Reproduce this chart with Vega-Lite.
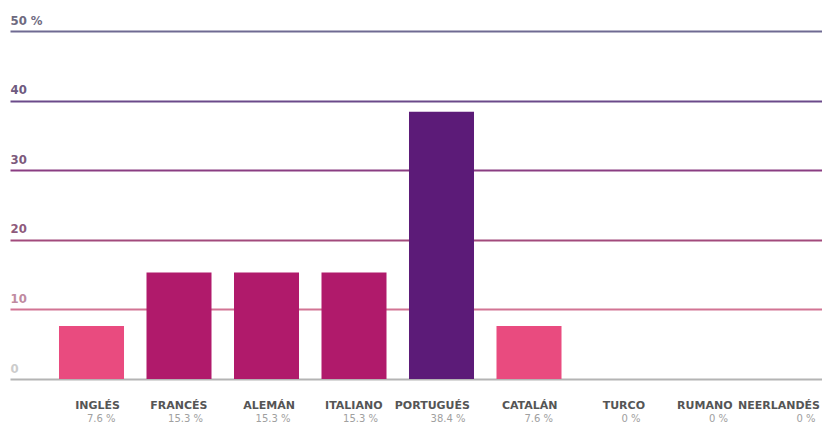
{
  "$schema": "https://vega.github.io/schema/vega-lite/v6.json",
  "width": 814,
  "height": 348,
  "autosize": {"type": "none"},
  "padding": {"left": 10, "top": 31, "right": 0, "bottom": 49},
  "background": "#ffffff",
  "config": {"view": {"stroke": null}},
  "data": {
    "values": [
      {"idioma": "INGLÉS", "pct": 7.6, "label": "7.6 %", "grupo": "a"},
      {"idioma": "FRANCÉS", "pct": 15.3, "label": "15.3 %", "grupo": "b"},
      {"idioma": "ALEMÁN", "pct": 15.3, "label": "15.3 %", "grupo": "b"},
      {"idioma": "ITALIANO", "pct": 15.3, "label": "15.3 %", "grupo": "b"},
      {"idioma": "PORTUGUÉS", "pct": 38.4, "label": "38.4 %", "grupo": "c"},
      {"idioma": "CATALÁN", "pct": 7.6, "label": "7.6 %", "grupo": "a"},
      {"idioma": "TURCO", "pct": 0, "label": "0 %", "grupo": "a"},
      {"idioma": "RUMANO", "pct": 0, "label": "0 %", "grupo": "a"},
      {"idioma": "NEERLANDÉS", "pct": 0, "label": "0 %", "grupo": "a"}
    ]
  },
  "layer": [
    {
      "mark": {"type": "bar"},
      "encoding": {
        "x": {
          "field": "idioma",
          "type": "nominal",
          "sort": null,
          "scale": {"paddingInner": 0.257, "paddingOuter": 0.28, "align": 1},
          "axis": null
        },
        "y": {
          "field": "pct",
          "type": "quantitative",
          "scale": {"domain": [0, 50], "nice": false},
          "axis": {
            "orient": "left",
            "values": [0, 10, 20, 30, 40, 50],
            "title": null,
            "domain": false,
            "ticks": false,
            "tickSize": 0,
            "grid": true,
            "gridWidth": 2,
            "gridColor": {
              "condition": [
                {"test": "datum.value == 50", "value": "#6f6a92"},
                {"test": "datum.value == 40", "value": "#6b4a8a"},
                {"test": "datum.value == 30", "value": "#8a3d82"},
                {"test": "datum.value == 20", "value": "#a24a7c"},
                {"test": "datum.value == 10", "value": "#d27494"}
              ],
              "value": "#b4b4b4"
            },
            "labelColor": {
              "condition": [
                {"test": "datum.value == 50", "value": "#6e6a80"},
                {"test": "datum.value == 40", "value": "#6e5a80"},
                {"test": "datum.value == 30", "value": "#7c5a7c"},
                {"test": "datum.value == 20", "value": "#8e5a7c"},
                {"test": "datum.value == 10", "value": "#c08aa0"}
              ],
              "value": "#cccccc"
            },
            "labelExpr": "datum.value == 50 ? '50 %' : datum.label",
            "labelAlign": "left",
            "labelBaseline": "alphabetic",
            "labelPadding": 0,
            "labelOffset": -7,
            "labelFont": "DejaVu Sans Condensed",
            "labelFontWeight": "bold",
            "labelFontSize": 13
          }
        },
        "color": {
          "field": "grupo",
          "type": "nominal",
          "scale": {"domain": ["a", "b", "c"], "range": ["#e94b7f", "#b01a6b", "#5c1b78"]},
          "legend": null
        }
      }
    },
    {
      "mark": {
        "type": "text",
        "align": "right",
        "baseline": "alphabetic",
        "dx": -4,
        "dy": 30,
        "font": "DejaVu Sans",
        "fontWeight": "bold",
        "fontSize": 11,
        "color": "#555555"
      },
      "encoding": {
        "x": {"field": "idioma", "type": "nominal", "sort": null, "bandPosition": 1},
        "y": {"datum": 0},
        "text": {"field": "idioma"}
      }
    },
    {
      "mark": {
        "type": "text",
        "align": "right",
        "baseline": "alphabetic",
        "dx": 24,
        "dy": 43,
        "font": "DejaVu Sans",
        "fontSize": 10,
        "color": "#a0a0a0"
      },
      "encoding": {
        "x": {"field": "idioma", "type": "nominal", "sort": null},
        "y": {"datum": 0},
        "text": {"field": "label"}
      }
    }
  ]
}
